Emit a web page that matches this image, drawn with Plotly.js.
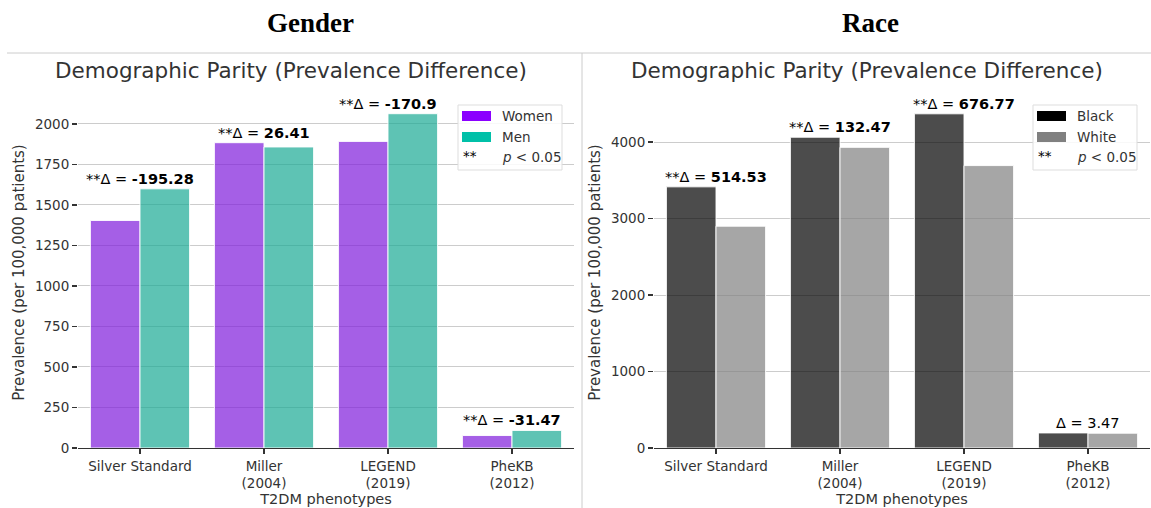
<!DOCTYPE html>
<html>
<head>
<meta charset="utf-8">
<script src="https://cdn.plot.ly/plotly-3.0.1.min.js"></script>
<style>html,body{margin:0;padding:0;background:#fff;}#chart{width:1151px;height:508px;}</style>
</head>
<body>
<div id="chart"></div>
<script>
// ---- data ----
const categories = ["Silver Standard", "Miller<br>(2004)", "LEGEND<br>(2019)", "PheKB<br>(2012)"];
const women = [1404, 1884, 1892, 77];
const men = [1599.28, 1857.59, 2062.9, 108.47];
const black = [3415, 4064, 4370, 197];
const white = [2900.47, 3931.53, 3693.23, 193.53];
const genderDelta = ["-195.28", "26.41", "-170.9", "-31.47"];
const genderSig = [true, true, true, true];
const raceDelta = ["514.53", "132.47", "676.77", "3.47"];
const raceSig = [true, true, true, false];
const genderLegend = ["Women", "Men"];
const raceLegend = ["Black", "White"];
const panelTitles = ["Gender", "Race"];

const W = 1151, H = 508;
const px = x => x / W;
const py = y => 1 - y / H;
const txt = '#333333';
const font = 'DejaVu Sans, sans-serif';

const barLine = {color: 'rgba(255,255,255,0.9)', width: 1};
const traces = [
  {type: 'bar', x: categories, y: women, name: genderLegend[0], xaxis: 'x', yaxis: 'y',
   marker: {color: 'rgba(127,27,219,0.7)', line: barLine}, showlegend: false, hoverinfo: 'none'},
  {type: 'bar', x: categories, y: men, name: genderLegend[1], xaxis: 'x', yaxis: 'y',
   marker: {color: 'rgba(25,169,148,0.7)', line: barLine}, showlegend: false, hoverinfo: 'none'},
  {type: 'bar', x: categories, y: black, name: raceLegend[0], xaxis: 'x2', yaxis: 'y2',
   marker: {color: 'rgba(0,0,0,0.7)', line: barLine}, showlegend: false, hoverinfo: 'none'},
  {type: 'bar', x: categories, y: white, name: raceLegend[1], xaxis: 'x2', yaxis: 'y2',
   marker: {color: 'rgba(128,128,128,0.7)', line: barLine}, showlegend: false, hoverinfo: 'none'}
];

const annotations = [];
function deltaNotes(a, b, deltas, sig, xr, yr) {
  categories.forEach((c, i) => {
    annotations.push({
      x: c, y: Math.max(a[i], b[i]), xref: xr, yref: yr,
      text: sig[i] ? '**Δ = <b>' + deltas[i] + '</b>' : 'Δ = ' + deltas[i],
      showarrow: false, yanchor: 'bottom', xanchor: 'center', yshift: 0,
      font: {family: font, size: 14.5, color: '#000'}
    });
  });
}
deltaNotes(women, men, genderDelta, genderSig, 'x', 'y');
deltaNotes(black, white, raceDelta, raceSig, 'x2', 'y2');

function paperText(x, y, text, size, fam, color, xanchor) {
  annotations.push({x: px(x), y: py(y), xref: 'paper', yref: 'paper', text: text,
    xanchor: xanchor || 'center', yanchor: 'middle', showarrow: false,
    font: {family: fam, size: size, color: color}});
}
// Panel headers
paperText(310, 23, '<b>' + panelTitles[0] + '</b>', 27, 'Liberation Serif, serif', '#000');
paperText(870, 23, '<b>' + panelTitles[1] + '</b>', 27, 'Liberation Serif, serif', '#000');
// Subplot titles
paperText(291, 71, 'Demographic Parity (Prevalence Difference)', 21.5, font, txt);
paperText(867, 71, 'Demographic Parity (Prevalence Difference)', 21.5, font, txt);

const shapes = [
  {type: 'line', xref: 'paper', yref: 'paper', x0: px(7), x1: 1, y0: py(53), y1: py(53), line: {color: '#cccccc', width: 1}},
  {type: 'line', xref: 'paper', yref: 'paper', x0: px(582), x1: px(582), y0: 0, y1: py(53), line: {color: '#cccccc', width: 1}}
];

// Custom legends
function legend(x0, x1, names, colors) {
  const rows = [116, 137, 157];
  shapes.push({type: 'rect', xref: 'paper', yref: 'paper', layer: 'above',
    x0: px(x0), x1: px(x1), y0: py(105), y1: py(170),
    line: {color: '#dddddd', width: 1}, fillcolor: 'rgba(255,255,255,0.85)'});
  for (let i = 0; i < 2; i++) {
    shapes.push({type: 'rect', xref: 'paper', yref: 'paper', layer: 'above',
      x0: px(x0 + 4), x1: px(x0 + 33), y0: py(rows[i] - 5), y1: py(rows[i] + 5),
      line: {width: 0}, fillcolor: colors[i]});
    paperText(x0 + 42, rows[i], names[i], 13.5, font, txt, 'left');
  }
  paperText(x0 + 3, rows[2] - 1, '**', 13.5, font, '#000', 'left');
  paperText(x0 + 42, rows[2], '<i>p</i> < 0.05', 13.5, font, txt, 'left');
}
legend(458, 562, genderLegend, ['#8b00ff', '#00c0a8']);
legend(1033, 1137, raceLegend, ['#000000', '#808080']);

const xa = (dom) => ({
  domain: dom, type: 'category', range: [-0.5, 3.5],
  showline: true, linecolor: '#333333', linewidth: 1.3,
  ticks: 'outside', ticklen: 5, tickcolor: '#333333', tickwidth: 1.3,
  showgrid: false, zeroline: false,
  tickfont: {family: font, size: 13.5, color: txt},
  title: {text: 'T2DM phenotypes', font: {family: font, size: 14.5, color: txt}, standoff: 2}
});
const ya = (range, dtick) => ({
  domain: [py(448), py(97)], range: range, dtick: dtick,
  showline: false, zeroline: false,
  ticks: 'outside', ticklen: 5, tickcolor: '#333333', tickwidth: 1.3,
  showgrid: true, gridcolor: '#cccccc', gridwidth: 1,
  tickfont: {family: font, size: 13.5, color: txt},
  title: {text: 'Prevalence (per 100,000 patients)', font: {family: font, size: 15, color: txt}, standoff: 6}
});

const layout = {
  width: W, height: H,
  margin: {l: 0, r: 0, t: 0, b: 0},
  paper_bgcolor: '#ffffff', plot_bgcolor: '#ffffff',
  barmode: 'group', bargap: 0.2, bargroupgap: 0,
  showlegend: false,
  xaxis: Object.assign(xa([px(78), px(574)]), {anchor: 'y'}),
  yaxis: Object.assign(ya([0, 2166], 250), {anchor: 'x'}),
  xaxis2: Object.assign(xa([px(654), px(1150)]), {anchor: 'y2'}),
  yaxis2: Object.assign(ya([0, 4590], 1000), {anchor: 'x2'}),
  annotations: annotations,
  shapes: shapes
};

Plotly.newPlot('chart', traces, layout, {staticPlot: true, displayModeBar: false});
</script>
</body>
</html>
